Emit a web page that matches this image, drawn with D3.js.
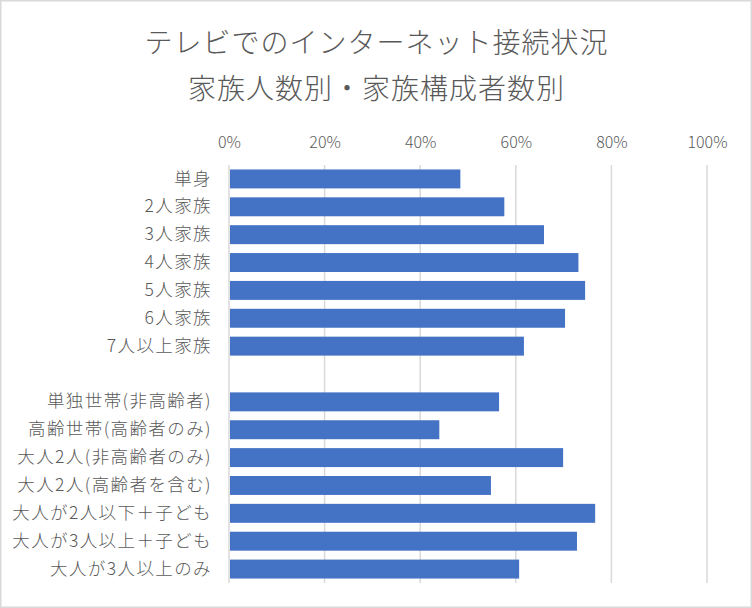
<!DOCTYPE html>
<html>
<head>
<meta charset="utf-8">
<script src="https://cdn.jsdelivr.net/npm/d3@7"></script>
<style>
  html, body { margin: 0; padding: 0; background: #fff; }
  svg { display: block; }
  text { fill: #595959; }
</style>
</head>
<body>
<svg id="chart" width="752" height="608"></svg>
<script>
const titleLines = ["テレビでのインターネット接続状況", "家族人数別・家族構成者数別"];
const categories = [
  "単身", "2人家族", "3人家族", "4人家族", "5人家族", "6人家族", "7人以上家族",
  "",
  "単独世帯(非高齢者)", "高齢世帯(高齢者のみ)", "大人2人(非高齢者のみ)", "大人2人(高齢者を含む)",
  "大人が2人以下＋子ども", "大人が3人以上＋子ども", "大人が3人以上のみ"
];
const values = [48.4, 57.6, 65.9, 73.1, 74.5, 70.3, 61.7, null, 56.5, 44.0, 69.9, 54.8, 76.6, 72.8, 60.7];
const tickValues = [0, 20, 40, 60, 80, 100];
const tickLabels = ["0%", "20%", "40%", "60%", "80%", "100%"];

const W = 752, H = 608;
const margin = { left: 229, right: 45, top: 165, bottom: 25 };
const lightFont = '"Noto Sans CJK JP Light", "Noto Sans CJK JP DemiLight", "Noto Sans CJK JP", "Noto Sans", sans-serif';
const svg = d3.select("#chart");

svg.append("rect").attr("x", 0.75).attr("y", 0.75).attr("width", W - 1.5).attr("height", H - 1.5)
  .attr("fill", "#fff").attr("stroke", "#d9d9d9").attr("stroke-width", 1.5);

const x = d3.scaleLinear().domain([0, 100]).range([margin.left, W - margin.right]);
const idx = categories.map((c, i) => i);
const y = d3.scaleBand().domain(idx).range([margin.top, H - margin.bottom]).paddingInner(0.32).paddingOuter(0.16);

// gridlines
svg.append("g").selectAll("line").data(tickValues).join("line")
  .attr("x1", d => x(d)).attr("x2", d => x(d))
  .attr("y1", margin.top).attr("y2", H - margin.bottom)
  .attr("stroke", "#d9d9d9").attr("stroke-width", 1.5);

// top axis labels
const axis = d3.axisTop(x).tickValues(tickValues).tickFormat((d, i) => tickLabels[i]).tickSize(0).tickPadding(0);
const gAxis = svg.append("g").attr("transform", `translate(0,142.5)`).call(axis);
gAxis.select(".domain").remove();
gAxis.selectAll("text").attr("font-size", 16).attr("dy", "0.35em").attr("y", 0)
  .style("font-family", lightFont).attr("font-weight", 300).attr("fill", "#595959");

// bars
svg.append("g").selectAll("rect").data(idx.filter(i => values[i] !== null)).join("rect")
  .attr("x", x(0) + 1)
  .attr("y", i => y(i))
  .attr("width", i => x(values[i]) - x(0) - 1)
  .attr("height", y.bandwidth())
  .attr("fill", "#4472c4");

// category labels
const yAxis = d3.axisLeft(y).tickFormat(i => categories[i]).tickSize(0).tickPadding(17);
const gY = svg.append("g").attr("transform", `translate(${margin.left},0)`).call(yAxis);
gY.select(".domain").remove();
gY.selectAll("text").attr("font-size", 17.5).attr("letter-spacing", 1.4)
  .style("font-family", lightFont).attr("font-weight", 300).attr("fill", "#595959");

// title
svg.append("g").selectAll("text").data(titleLines).join("text")
  .attr("x", W / 2 + 0.5).attr("y", (d, i) => 41 + i * 46)
  .attr("text-anchor", "middle").attr("dominant-baseline", "central")
  .attr("font-size", 28).attr("font-weight", 300).attr("letter-spacing", 1)
  .style("font-family", lightFont)
  .text(d => d);
</script>
</body>
</html>
